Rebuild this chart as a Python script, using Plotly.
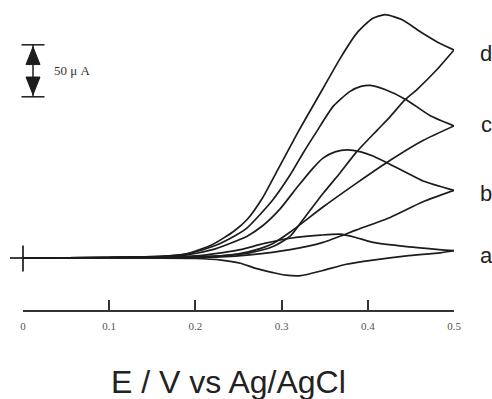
import plotly.graph_objects as go

# ---------------- data (E in V, I in µA) ----------------
d_fwd_E = [0, 0.10, 0.16, 0.19, 0.22, 0.245, 0.26, 0.278, 0.295, 0.319, 0.339, 0.348, 0.368, 0.387, 0.405, 0.42, 0.44, 0.46, 0.48, 0.5]
d_fwd_I = [0, 0.5, 1.5, 4, 13, 26, 37, 58, 84, 121, 150, 163, 192, 216, 230, 234, 229, 218, 208, 200]
d_rev_E = [0.5, 0.48, 0.457, 0.443, 0.426, 0.411, 0.387, 0.368, 0.348, 0.325, 0.31, 0.29, 0.263, 0.23, 0.2, 0.1, 0]
d_rev_I = [200, 181, 162, 152, 136, 123, 102, 82, 62, 37, 21, 11, 5, 2, 1, 0.3, 0]

c_fwd_E = [0, 0.1, 0.16, 0.19, 0.22, 0.245, 0.26, 0.289, 0.31, 0.325, 0.341, 0.36, 0.379, 0.392, 0.403, 0.42, 0.445, 0.472, 0.5]
c_fwd_I = [0, 0.5, 1.5, 4, 11, 21, 29, 55, 80, 101, 122, 146, 160, 165, 166, 162, 152, 137, 127]
c_rev_E = [0.5, 0.464, 0.426, 0.387, 0.348, 0.31, 0.29, 0.275, 0.25, 0.229, 0.2, 0.1, 0]
c_rev_I = [127, 113, 94, 72, 49, 25, 14, 9, 4, 2, 1, 0.3, 0]

b_fwd_E = [0, 0.1, 0.16, 0.19, 0.22, 0.24, 0.26, 0.278, 0.298, 0.318, 0.336, 0.348, 0.362, 0.376, 0.392, 0.406, 0.426, 0.445, 0.464, 0.5]
b_fwd_I = [0, 0.4, 1.2, 3, 8, 14, 21, 31, 47, 68, 86, 96, 102, 104, 102, 98, 90, 82, 74, 65]
b_rev_E = [0.5, 0.464, 0.426, 0.387, 0.348, 0.31, 0.263, 0.229, 0.2, 0.1, 0]
b_rev_I = [65, 54, 39, 27, 15, 8, 3, 1, 0.5, 0.2, 0]

a_fwd_E = [0, 0.1, 0.16, 0.2, 0.23, 0.252, 0.28, 0.31, 0.345, 0.368, 0.385, 0.406, 0.445, 0.5]
a_fwd_I = [0, 0.3, 1, 2, 5, 8, 14, 19, 22, 23, 20, 15, 11, 7]
a_rev_E = [0.5, 0.484, 0.445, 0.406, 0.375, 0.348, 0.322, 0.305, 0.29, 0.27, 0.252, 0.23, 0.2, 0.1, 0]
a_rev_I = [7, 5, 2, -2, -6, -12, -17, -16.5, -14, -10, -5, -2, -0.5, 0, 0]

curve_labels = ["a", "b", "c", "d"]
label_I = [2, 62, 128, 197]

tick_vals = [0, 0.1, 0.2, 0.3, 0.4, 0.5]
tick_text = ["0", "0.1", "0.2", "0.3", "0.4", "0.5"]

scale_uA = 50
scale_top = 205
x_title = "E / V vs Ag/AgCl"

# ---------------- figure ----------------
LINE = dict(color="#1c1c1c", width=1.7, shape="spline", smoothing=0.6)
fig = go.Figure()
for E, I in [(d_fwd_E, d_fwd_I), (d_rev_E, d_rev_I), (c_fwd_E, c_fwd_I), (c_rev_E, c_rev_I),
             (b_fwd_E, b_fwd_I), (b_rev_E, b_rev_I), (a_fwd_E, a_fwd_I), (a_rev_E, a_rev_I)]:
    fig.add_trace(go.Scatter(x=E, y=I, mode="lines", line=LINE, hoverinfo="skip", showlegend=False))

W, H = 492, 399
ml, mr, mt, mb = 23, 38, 5, 89
pw = W - ml - mr
ph = H - mt - mb
y_lo = -50
y_hi = y_lo + ph / 1.04

def px2paper(px):
    return (px - ml) / pw

shapes = []
# zero-current cross at the left
shapes.append(dict(type="line", xref="paper", yref="y", x0=px2paper(10), x1=0, y0=0, y1=0,
                   line=dict(color="#1c1c1c", width=1.7)))
shapes.append(dict(type="line", xref="paper", yref="y", x0=0, x1=0, y0=-13, y1=12,
                   line=dict(color="#1c1c1c", width=1.7)))
# scale bar
sb_x = px2paper(33)
sb_hw = 11.5 / pw
scale_bot = scale_top - scale_uA
for yy in (scale_top, scale_bot):
    shapes.append(dict(type="line", xref="paper", yref="y", x0=sb_x - sb_hw, x1=sb_x + sb_hw, y0=yy, y1=yy,
                       line=dict(color="#1c1c1c", width=1.5)))
shapes.append(dict(type="line", xref="paper", yref="y", x0=sb_x, x1=sb_x, y0=scale_bot, y1=scale_top,
                   line=dict(color="#1c1c1c", width=1.5)))
ah_len = 19
ah_hw = 7 / pw
up = f"M {sb_x},{scale_top - 2} L {sb_x - ah_hw},{scale_top - ah_len} L {sb_x + ah_hw},{scale_top - ah_len} Z"
dn = f"M {sb_x},{scale_bot + 2} L {sb_x - ah_hw},{scale_bot + ah_len} L {sb_x + ah_hw},{scale_bot + ah_len} Z"
for p in (up, dn):
    shapes.append(dict(type="path", xref="paper", yref="y", path=p, fillcolor="#1c1c1c",
                       line=dict(color="#1c1c1c", width=1)))

annotations = []
annotations.append(dict(text="50 μ A", xref="paper", yref="y", x=px2paper(52), y=scale_top - scale_uA / 2,
                        xanchor="left", yanchor="middle", showarrow=False,
                        font=dict(family="Liberation Serif, Times New Roman, serif", size=13, color="#333")))
for lab, li in zip(curve_labels, label_I):
    annotations.append(dict(text=lab, xref="paper", yref="y", x=px2paper(486), y=li,
                            xanchor="center", yanchor="middle", showarrow=False,
                            font=dict(family="Liberation Sans, Arial, sans-serif", size=22, color="#222")))
annotations.append(dict(text=x_title, xref="paper", yref="paper", x=px2paper(228), y=-(382 - (H - mb)) / ph,
                        xanchor="center", yanchor="middle", showarrow=False,
                        font=dict(family="Liberation Sans, Arial, sans-serif", size=32, color="#222")))

fig.update_layout(
    width=W, height=H, margin=dict(l=ml, r=mr, t=mt, b=mb),
    paper_bgcolor="white", plot_bgcolor="white",
    shapes=shapes, annotations=annotations,
    xaxis=dict(range=[0, 0.5], showgrid=False, zeroline=False, showline=True, linecolor="#333", linewidth=1.5,
               ticks="inside", ticklen=10, tickwidth=1.8, tickcolor="#333",
               tickvals=tick_vals, ticktext=tick_text, ticklabelstandoff=5,
               tickfont=dict(family="Liberation Serif, Times New Roman, serif", size=11, color="#555")),
    yaxis=dict(range=[y_lo, y_hi], visible=False, showgrid=False, zeroline=False),
)

fig.write_html("out.html")
